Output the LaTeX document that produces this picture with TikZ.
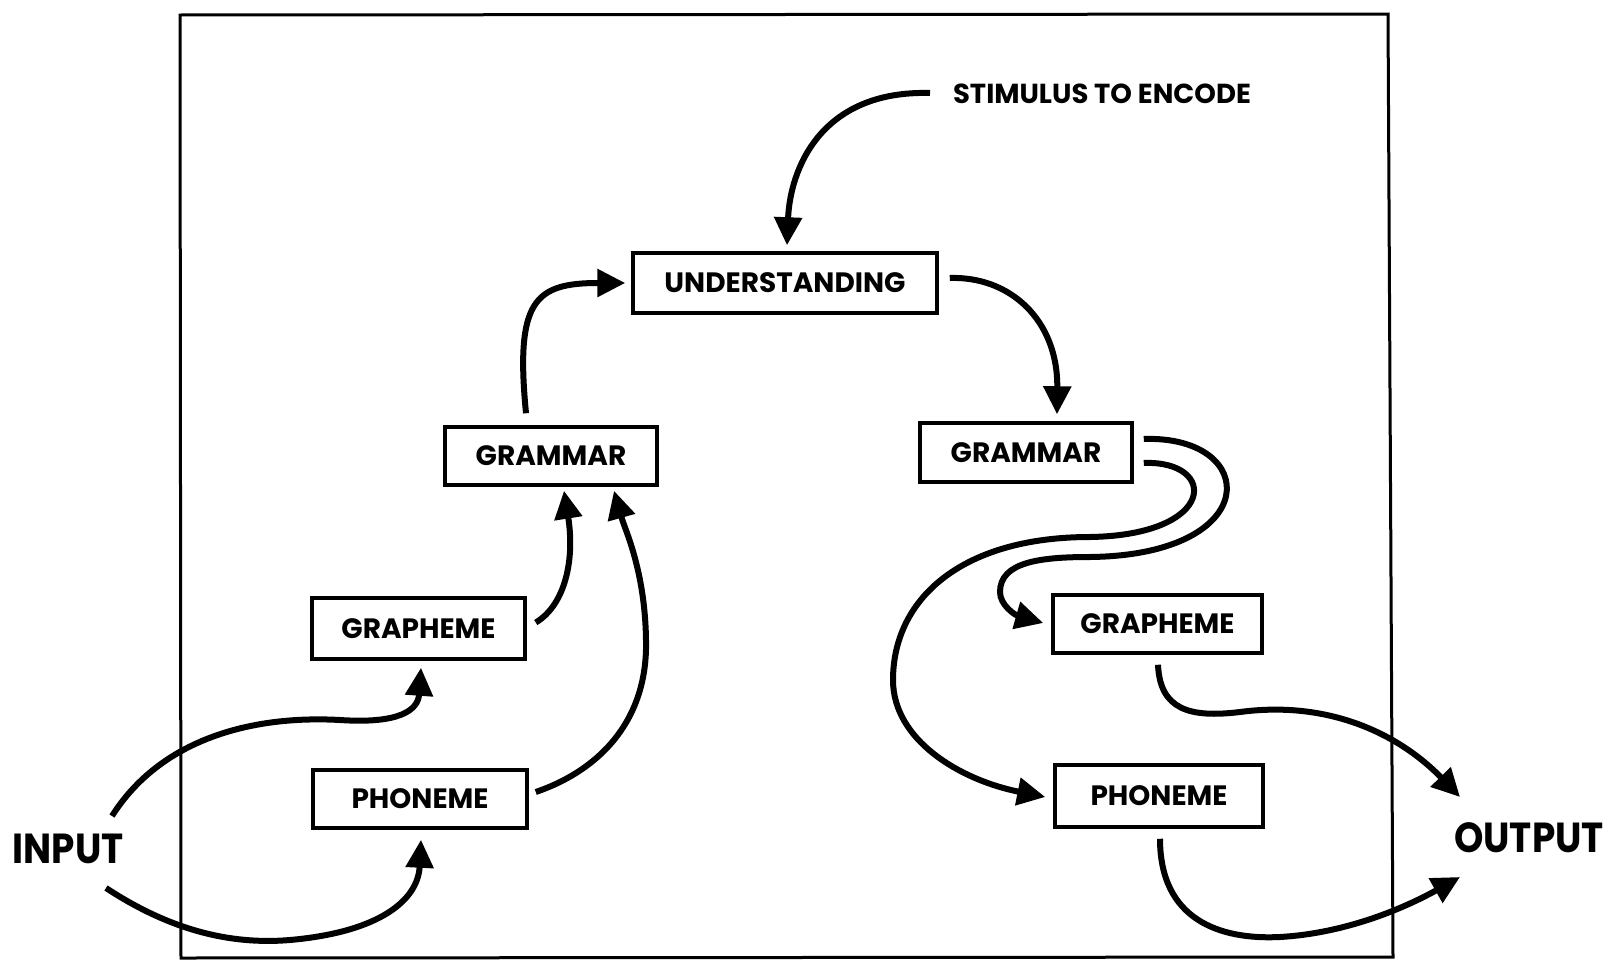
\documentclass[tikz,border=0pt]{standalone}
\usepackage{fontspec}
\setmainfont{Poppins}
\newfontfamily\bigfont{Poppins}[FakeStretch=0.89]
\usetikzlibrary{arrows.meta,calc}
\begin{document}
\begin{tikzpicture}[x=1pt,y=-1pt,
  box/.style={draw,line width=3.5pt,inner sep=0pt,font=\fontsize{28}{30}\selectfont\bfseries},
  lab/.style={inner sep=0pt,font=\bigfont\fontsize{42}{44}\selectfont\bfseries},
  stimlab/.style={inner sep=0pt,font=\fontsize{27.5}{29}\selectfont\bfseries},
  conn/.style={line width=6pt,-{Triangle[length=28pt,width=27pt]}},
  framestyle/.style={line width=3pt}
]
\useasboundingbox (0,0) rectangle (1609,964);
\draw[framestyle] (180,15) -- (1388,14) -- (1393,957) -- (181,958) -- cycle;

\node[box,minimum width=304pt,minimum height=60pt] (und) at (785,283) {UNDERSTANDING};
\node[box,minimum width=212pt,minimum height=58pt] (lgram) at (551,456) {GRAMMAR};
\node[box,minimum width=212pt,minimum height=59pt] (rgram) at (1026,452.5) {GRAMMAR};
\node[box,minimum width=213pt,minimum height=61pt] (lgraph) at (418.5,628.5) {GRAPHEME};
\node[box,minimum width=214pt,minimum height=58pt] (lphon) at (420,799) {PHONEME};
\node[box,minimum width=209pt,minimum height=58pt] (rgraph) at (1157.5,624) {GRAPHEME};
\node[box,minimum width=208pt,minimum height=62pt] (rphon) at (1159,796) {PHONEME};
\node[stimlab] (stim) at (1102,94) {STIMULUS TO ENCODE};
\node[lab] (in) at (68,849) {INPUT};
\node[lab] (out) at (1529,838) {OUTPUT};

% stimulus -> understanding
\draw[conn] ($(stim.center)+(-172,-1)$) .. controls (820,90) and (790,170) .. ($(und.north)+(2,-6)$);
% left grammar -> understanding
\draw[conn] ($(lgram.north)+(-25,-12)$) .. controls (515,300) and (535,283) .. ($(und.west)+(-6,0)$);
% understanding -> right grammar
\draw[conn] ($(und.east)+(11,-5)$) .. controls (1010,276) and (1058,320) .. ($(rgram.north)+(31,-7)$);
% left grapheme -> left grammar
\draw[conn] ($(lgraph.east)+(9,-6)$) .. controls (565,605) and (575,560) .. ($(lgram.south)+(13,4)$);
% left phoneme -> left grammar
\draw[conn] ($(lphon.east)+(7,-7)$) .. controls (600,770) and (648,720) .. (646,640)
  .. controls (645,570) and (625,530) .. ($(lgram.south)+(63,4)$);
% input -> left grapheme
\draw[conn] ($(in.center)+(44,-33)$) .. controls (160,740) and (250,715) .. (340,720)
  .. controls (400,724) and (418,710) .. ($(lgraph.south)+(2.5,7)$);
% input -> left phoneme
\draw[conn] ($(in.center)+(38,39)$) .. controls (170,930) and (230,945) .. (290,940)
  .. controls (380,932) and (418,900) .. ($(lphon.south)+(1,10)$);
% right grammar -> right grapheme (outer loop)
\draw[conn] ($(rgram.east)+(10,-13.5)$) .. controls (1260,435) and (1265,555) .. (1090,557)
  .. controls (1040,557) and (1000,562) .. (1000,592)
  .. controls (1000,605) and (1015,615) .. ($(rgraph.west)+(-8,-1)$);
% right grammar -> right phoneme (inner loop)
\draw[conn] ($(rgram.east)+(10,10.5)$) .. controls (1218,460) and (1218,535) .. (1090,537)
  .. controls (960,537) and (893,600) .. (893,680)
  .. controls (893,740) and (960,780) .. ($(rphon.west)+(-8,1)$);
% right grapheme -> output
\draw[conn] ($(rgraph.south)+(0.5,10)$) .. controls (1160,710) and (1190,718) .. (1240,712)
  .. controls (1330,700) and (1400,735) .. ($(out.center)+(-69,-41)$);
% right phoneme -> output
\draw[conn] ($(rphon.south)+(1,10)$) .. controls (1160,920) and (1220,940) .. (1280,937)
  .. controls (1350,933) and (1410,905) .. ($(out.center)+(-69,39)$);
\end{tikzpicture}
\end{document}
